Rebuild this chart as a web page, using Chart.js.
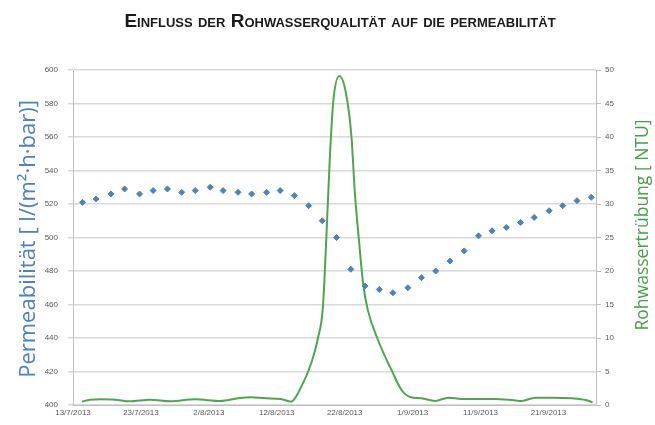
<!DOCTYPE html>
<html>
<head>
<meta charset="utf-8">
<script src="https://cdn.jsdelivr.net/npm/chart.js@4/dist/chart.umd.min.js"></script>
<style>
  html, body { margin: 0; padding: 0; background: #fff; }
  #wrap { width: 655px; height: 425px; position: relative; }
</style>
</head>
<body>
<div id="wrap"><canvas id="myChart" width="655" height="425"></canvas></div>
<script>
// Tage seit 13/7/2013
const xTickLabels = ['13/7/2013', '23/7/2013', '2/8/2013', '12/8/2013', '22/8/2013', '1/9/2013', '11/9/2013', '21/9/2013'];

// Permeabilität (blaue Punkte)
const permDays = [1.4, 3.4, 5.6, 7.6, 9.8, 11.8, 13.9, 16.0, 18.0, 20.2, 22.1, 24.3, 26.3, 28.5, 30.5, 32.6, 34.7, 36.7, 38.8,
  40.9, 43.0, 45.1, 47.1, 49.3, 51.3, 53.4, 55.5, 57.6, 59.7, 61.7, 63.8, 65.9, 67.9, 70.1, 72.1, 74.2, 76.3];
const permValues = [521, 523, 526, 529, 526, 528, 529, 527, 528, 530, 528, 527, 526, 527, 528, 525, 519, 510, 500,
  481, 471, 469, 467, 470, 476, 480, 486, 492, 501, 504, 506, 509, 512, 516, 519, 522, 524];

// Rohwassertrübung (grüne Linie)
const turbDays = [1.3, 2.5, 4.0, 6.2, 8.4, 11.4, 14.3, 18.0, 21.7, 24.3, 26.2, 28.4, 30.6, 32.1, 33.6, 35.1, 36.0, 36.8, 37.3,
  37.8, 38.3, 39.2, 40.2, 41.0, 41.5, 42.1, 42.7, 43.4, 44.9, 46.9, 48.4, 49.6, 51.3, 53.3, 55.3, 57.2, 62.1, 64.6, 66.1,
  68.0, 70.6, 73.5, 75.5, 76.5];
const turbValues = [0.5, 0.8, 0.85, 0.8, 0.55, 0.8, 0.55, 0.85, 0.6, 1.0, 1.15, 1.0, 0.9, 0.5, 2.7, 6.3, 9.7, 14.7, 25,
  36.6, 45.1, 49.1, 46.5, 40, 31.6, 24.6, 18.2, 14.2, 9.7, 5.2, 2.2, 1.2, 1.0, 0.6, 1.1, 0.9, 0.9, 0.75, 0.6,
  1.1, 1.1, 1.0, 0.75, 0.4];

const blue = '#4f81bd';
const green = '#4ea64e';
const tickFont = { family: '"Liberation Sans", Arial, sans-serif', size: 8 };

// Titel und Achsentitel selbst zeichnen (Kapitälchen, rechter Titel von unten nach oben)
const textPlugin = {
  id: 'textPlugin',
  afterDraw(chart) {
    const ctx = chart.ctx;
    ctx.save();
    ctx.font = 'small-caps bold 19px "Liberation Sans", Arial, sans-serif';
    if ('fontVariantCaps' in ctx) ctx.fontVariantCaps = 'small-caps';
    ctx.fillStyle = '#1a1a1a';
    ctx.textAlign = 'center';
    ctx.textBaseline = 'middle';
    ctx.fillText('Einfluss der Rohwasserqualität auf die permeabilität', 340, 22);
    ctx.restore();

    ctx.save();
    ctx.font = '22px "Open Sans", "DejaVu Sans", sans-serif';
    ctx.fillStyle = blue;
    ctx.textAlign = 'center';
    ctx.textBaseline = 'middle';
    ctx.translate(29, 239);
    ctx.rotate(-Math.PI / 2);
    ctx.fillText('Permeabilität [ l/(m²·h·bar)]', 0, 0);
    ctx.restore();

    ctx.save();
    ctx.font = '17.5px "Open Sans", "DejaVu Sans", sans-serif';
    ctx.fillStyle = '#45a045';
    ctx.textAlign = 'center';
    ctx.textBaseline = 'middle';
    ctx.translate(643, 225);
    ctx.rotate(-Math.PI / 2);
    ctx.fillText('Rohwassertrübung [ NTU]', 0, 0);
    ctx.restore();
  }
};

const ctx = document.getElementById('myChart').getContext('2d');

new Chart(ctx, {
  data: {
    datasets: [
      {
        type: 'line',
        label: 'Rohwassertrübung',
        data: turbDays.map((d, i) => ({ x: d, y: turbValues[i] })),
        yAxisID: 'y2',
        borderColor: green,
        borderWidth: 2,
        pointRadius: 0,
        cubicInterpolationMode: 'monotone',
        fill: false,
        order: 2
      },
      {
        type: 'scatter',
        label: 'Permeabilität',
        data: permDays.map((d, i) => ({ x: d, y: permValues[i] })),
        yAxisID: 'y',
        backgroundColor: blue,
        borderColor: blue,
        pointStyle: 'rectRot',
        pointRadius: 3,
        order: 1
      }
    ]
  },
  options: {
    responsive: false,
    animation: false,
    layout: {
      padding: { top: 70, left: 0, right: 0, bottom: 0 }
    },
    plugins: {
      legend: { display: false },
      tooltip: { enabled: false }
    },
    scales: {
      x: {
        type: 'linear',
        min: 0,
        max: 77,
        afterFit: s => { s.height = 20; },
        afterBuildTicks: s => {
          s.ticks = xTickLabels.map((_, i) => ({ value: i * 10 }));
        },
        ticks: {
          font: tickFont,
          color: '#595959',
          maxRotation: 0,
          padding: 3,
          callback: v => xTickLabels[Math.round(v / 10)]
        },
        grid: { drawOnChartArea: false, drawTicks: false },
        border: { color: '#bfbfbf', width: 1 }
      },
      y: {
        position: 'left',
        min: 400,
        max: 600,
        afterFit: s => { s.width = 73; },
        ticks: { stepSize: 20, font: tickFont, color: '#595959', padding: 10 },
        grid: { color: '#d9d9d9', lineWidth: 1.5, tickLength: 5 },
        border: { color: '#bfbfbf', width: 1 }
      },
      y2: {
        position: 'right',
        min: 0,
        max: 50,
        afterFit: s => { s.width = 59; },
        ticks: { stepSize: 5, font: tickFont, color: '#595959', padding: 4 },
        grid: { drawOnChartArea: false, color: '#bfbfbf', tickLength: 5 },
        border: { color: '#bfbfbf', width: 1 }
      }
    }
  },
  plugins: [textPlugin]
});
</script>
</body>
</html>
